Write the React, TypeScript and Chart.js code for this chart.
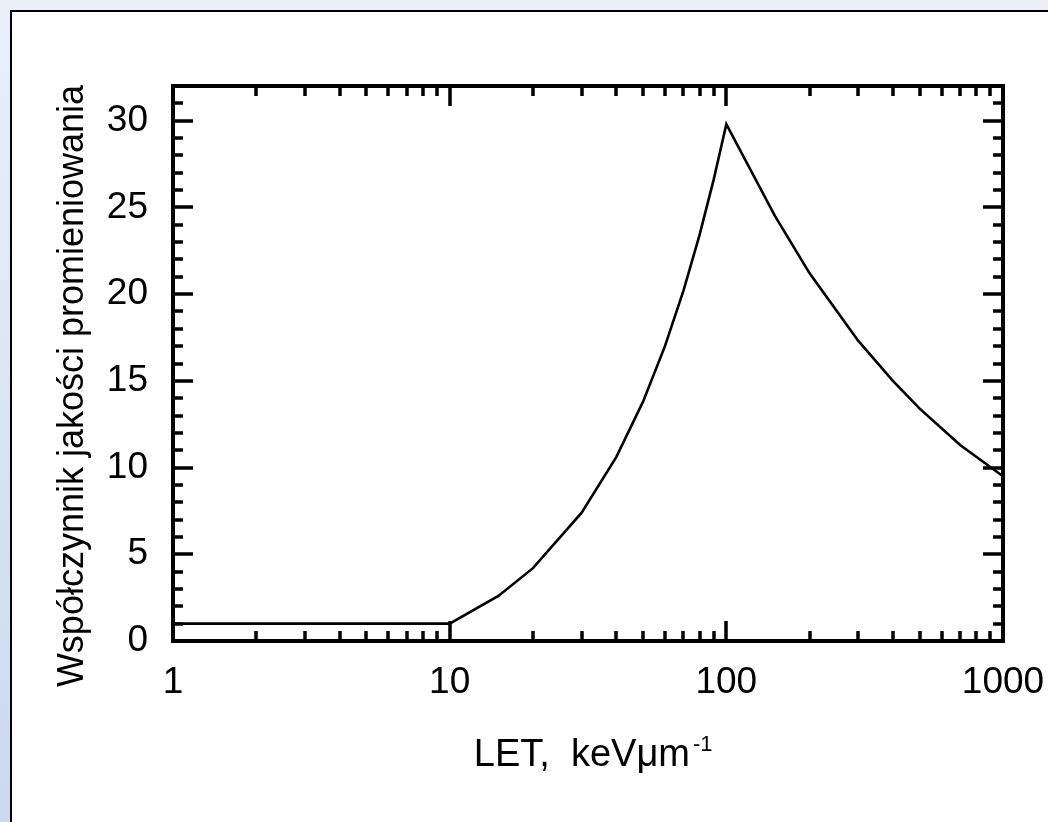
import React, { useEffect, useRef } from "react";
import { Chart, registerables } from "chart.js";

Chart.register(...registerables);

// LET values (keV/µm) and radiation quality factor
const letValues = [1, 10, 15, 20, 30, 40, 50, 60, 70, 80, 90, 100, 150, 200, 300, 400, 500, 700, 1000];
const qValues = [1.0, 1.0, 2.6, 4.2, 7.4, 10.6, 13.8, 17.0, 20.2, 23.4, 26.6, 29.8, 24.5, 21.2, 17.3, 15.0, 13.4, 11.3, 9.5];

const xTickValues = [1, 10, 100, 1000];
const yTickValues = [0, 5, 10, 15, 20, 25, 30];
const yMinorStep = 1;

const yTitle = "Współczynnik jakości promieniowania";
const xTitleMain = "LET,  keVμm";
const xTitleSup = "-1";

const FONT = "'Liberation Sans', Arial, sans-serif";

const framePlugin = {
  id: "framePlugin",
  afterDraw(chart: any) {
    const ctx = chart.ctx as CanvasRenderingContext2D;
    const { left, right, top, bottom } = chart.chartArea;
    const xs = chart.scales.x;
    const ys = chart.scales.y;
    ctx.save();
    ctx.strokeStyle = "#000";
    ctx.lineWidth = 3.5;
    ctx.lineCap = "butt";
    ctx.beginPath();
    // x ticks (bottom and top), inward
    for (let d = 1; d <= 100; d *= 10) {
      for (let m = 1; m <= 9; m++) {
        const v = d * m;
        if (v === 1) continue;
        const px = Math.round(xs.getPixelForValue(v));
        const len = m === 1 ? 20 : 10;
        ctx.moveTo(px, bottom);
        ctx.lineTo(px, bottom - len);
        ctx.moveTo(px, top);
        ctx.lineTo(px, top + len);
      }
    }
    // y ticks (left and right), inward
    for (let v = ys.min; v <= ys.max; v += yMinorStep) {
      const py = Math.round(ys.getPixelForValue(v));
      const len = v % 5 === 0 ? 20 : 10;
      ctx.moveTo(left, py);
      ctx.lineTo(left + len, py);
      ctx.moveTo(right, py);
      ctx.lineTo(right - len, py);
    }
    ctx.stroke();
    ctx.lineWidth = 4;
    ctx.strokeRect(left, top, right - left, bottom - top);

    // titles
    ctx.fillStyle = "#000";
    ctx.font = `36px ${FONT}`;
    ctx.textAlign = "center";
    ctx.textBaseline = "middle";
    ctx.save();
    ctx.translate(73, 386);
    ctx.rotate(-Math.PI / 2);
    ctx.fillText(yTitle, 0, 0);
    ctx.restore();

    ctx.font = `38px ${FONT}`;
    ctx.textAlign = "left";
    ctx.textBaseline = "alphabetic";
    const w = ctx.measureText(xTitleMain).width;
    const endX = 690;
    ctx.fillText(xTitleMain, endX - w, 766);
    ctx.font = `22px ${FONT}`;
    ctx.fillText(xTitleSup, endX + 3, 751);
    ctx.restore();
  },
};

export default function App() {
  const canvasRef = useRef<HTMLCanvasElement | null>(null);

  useEffect(() => {
    const canvas = canvasRef.current;
    if (!canvas) return;
    const chart = new Chart(canvas, {
      type: "line",
      data: {
        datasets: [
          {
            data: letValues.map((x, i) => ({ x, y: qValues[i] })),
            borderColor: "#000",
            borderWidth: 2.6,
            pointRadius: 0,
            tension: 0,
            fill: false,
          },
        ],
      },
      options: {
        responsive: false,
        animation: false,
        events: [],
        layout: { padding: { left: 0, right: 45, top: 86, bottom: 0 } },
        plugins: { legend: { display: false }, tooltip: { enabled: false }, title: { display: false } },
        scales: {
          x: {
            type: "logarithmic",
            min: 1,
            max: 1000,
            grid: { display: false, drawTicks: false },
            border: { display: false },
            afterBuildTicks: (scale: any) => {
              scale.ticks = xTickValues.map((v) => ({ value: v }));
            },
            afterFit: (scale: any) => {
              scale.height = 181;
              scale.paddingLeft = 0;
              scale.paddingRight = 0;
            },
            ticks: {
              autoSkip: false,
              maxRotation: 0,
              padding: 20,
              color: "#000",
              font: { family: FONT, size: 37 },
              callback: (v: any) => String(v),
            },
          },
          y: {
            type: "linear",
            min: 0,
            max: 32,
            grid: { display: false, drawTicks: false },
            border: { display: false },
            afterBuildTicks: (scale: any) => {
              scale.ticks = yTickValues.map((v) => ({ value: v }));
            },
            afterFit: (scale: any) => {
              scale.width = 173;
              scale.paddingTop = 0;
              scale.paddingBottom = 0;
            },
            ticks: {
              autoSkip: false,
              padding: 25,
              color: "#000",
              font: { family: FONT, size: 37 },
              callback: (v: any) => String(v),
            },
          },
        },
      },
      plugins: [framePlugin],
    });
    return () => chart.destroy();
  }, []);

  return (
    <div
      style={{
        position: "fixed",
        left: 0,
        top: 0,
        width: 1048,
        height: 822,
        overflow: "hidden",
        background: "linear-gradient(to bottom, #ebf0f9 0%, #c9d9ef 100%)",
      }}
    >
      <div
        style={{
          position: "absolute",
          left: 10,
          top: 10,
          width: 1100,
          height: 900,
          background: "#fff",
          borderLeft: "2px solid #000",
          borderTop: "2px solid #000",
        }}
      />
      <canvas
        ref={canvasRef}
        width={1048}
        height={822}
        style={{ position: "absolute", left: 0, top: 0, width: 1048, height: 822, display: "block" }}
      />
    </div>
  );
}
